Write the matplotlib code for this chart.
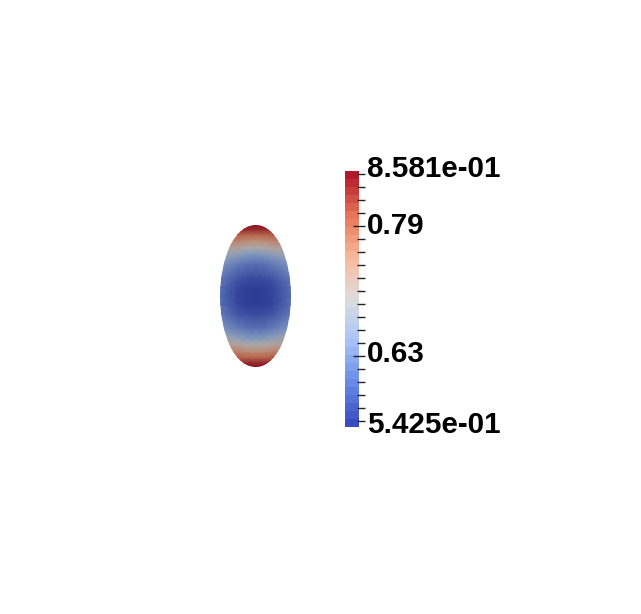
import numpy as np
from matplotlib import pyplot as plt
from matplotlib import colors as mcolors
from matplotlib import cm
from matplotlib.patches import Ellipse

W, H = 641, 614

vmin = 0.5425
vmax = 0.8581
minor_ticks = [0.55, 0.566, 0.582, 0.598, 0.614, 0.646, 0.662, 0.678, 0.694, 0.71,
               0.726, 0.742, 0.758, 0.774, 0.806, 0.822, 0.838, 0.854]
major_ticks = [0.63, 0.79]
end_labels = ['5.425e-01', '8.581e-01']
major_labels = ['0.63', '0.79']
cmap_colors = ['#3b4cc0', '#6a8be8', '#a9c4f7', '#dddddd', '#f7b89c', '#e8775a', '#b2182b']

u_half = [0.0, 0.25, 0.5, 1.0]
v_half = [0.0, 0.12, 0.25, 0.45, 0.59, 0.68, 0.78, 0.87, 0.93, 1.0]
field_half = [[0.5425, 0.545, 0.553, 0.596],
              [0.545, 0.548, 0.557, 0.600],
              [0.560, 0.563, 0.572, 0.612],
              [0.600, 0.604, 0.615, 0.645],
              [0.645, 0.650, 0.667, 0.685],
              [0.698, 0.703, 0.715, 0.725],
              [0.752, 0.755, 0.765, 0.775],
              [0.798, 0.800, 0.805, 0.810],
              [0.835, 0.836, 0.838, 0.840],
              [0.858, 0.858, 0.858, 0.858]]

u_grid = np.r_[-np.array(u_half[:0:-1]), u_half]
v_grid = np.r_[-np.array(v_half[:0:-1]), v_half]
field = np.array(field_half)
field = np.hstack([field[:, :0:-1], field])
field = np.vstack([field[:0:-1], field])


def px_axes(fig, x0, y0, x1, y1):
    # axes from picture pixels, y measured from the top
    return fig.add_axes([x0 / W, 1 - y1 / H, (x1 - x0) / W, (y1 - y0) / H])


plt.rcParams['font.family'] = ['Liberation Sans', 'DejaVu Sans']
fig = plt.figure(figsize=(W / 100, H / 100), dpi=100)

smooth = mcolors.LinearSegmentedColormap.from_list('bar', cmap_colors, N=256)
bar_cmap = smooth.resampled(32)
shaded = smooth(np.linspace(0, 1, 256))
shaded[:, :3] *= 0.77  # surface looks darker than the bar
surf_cmap = mcolors.ListedColormap(shaded)
norm = mcolors.Normalize(vmin, vmax)

ax = px_axes(fig, 220, 225, 291, 367)
mesh = ax.pcolormesh(u_grid, v_grid, field, cmap=surf_cmap, norm=norm, shading='gouraud')
ax.set_xlim(-1, 1)
ax.set_ylim(-1, 1)
ax.axis('off')
outline = Ellipse((0, 0), 2, 2, transform=ax.transData, fc='none', ec='none')
ax.add_patch(outline)
mesh.set_clip_path(outline)

cax = px_axes(fig, 345, 171, 359, 427)
cb = fig.colorbar(cm.ScalarMappable(norm=norm, cmap=bar_cmap), cax=cax)
cb.outline.set_visible(False)
cb.set_ticks([])
trans = cax.get_yaxis_transform()
cax.hlines(minor_ticks, 12 / 14, 20 / 14, transform=trans, color='#222222', lw=1, clip_on=False)
cax.hlines(major_ticks, 8 / 14, 20 / 14, transform=trans, color='#222222', lw=1, clip_on=False)

label_font = dict(fontsize=21.3, fontweight='bold', color='black', ha='left', va='center',
                  xycoords=trans, textcoords='offset pixels', annotation_clip=False)
cax.annotate(major_labels[0], (22 / 14, major_ticks[0]), xytext=(0, 2), **label_font)
cax.annotate(major_labels[1], (22 / 14, major_ticks[1]), xytext=(0, 0), **label_font)
cax.annotate(end_labels[0], (22 / 14, vmin), xytext=(0, 2), **label_font)
cax.annotate(end_labels[1], (22 / 14, vmax), xytext=(0, 2), **label_font)

plt.savefig('out.png', dpi=100)
